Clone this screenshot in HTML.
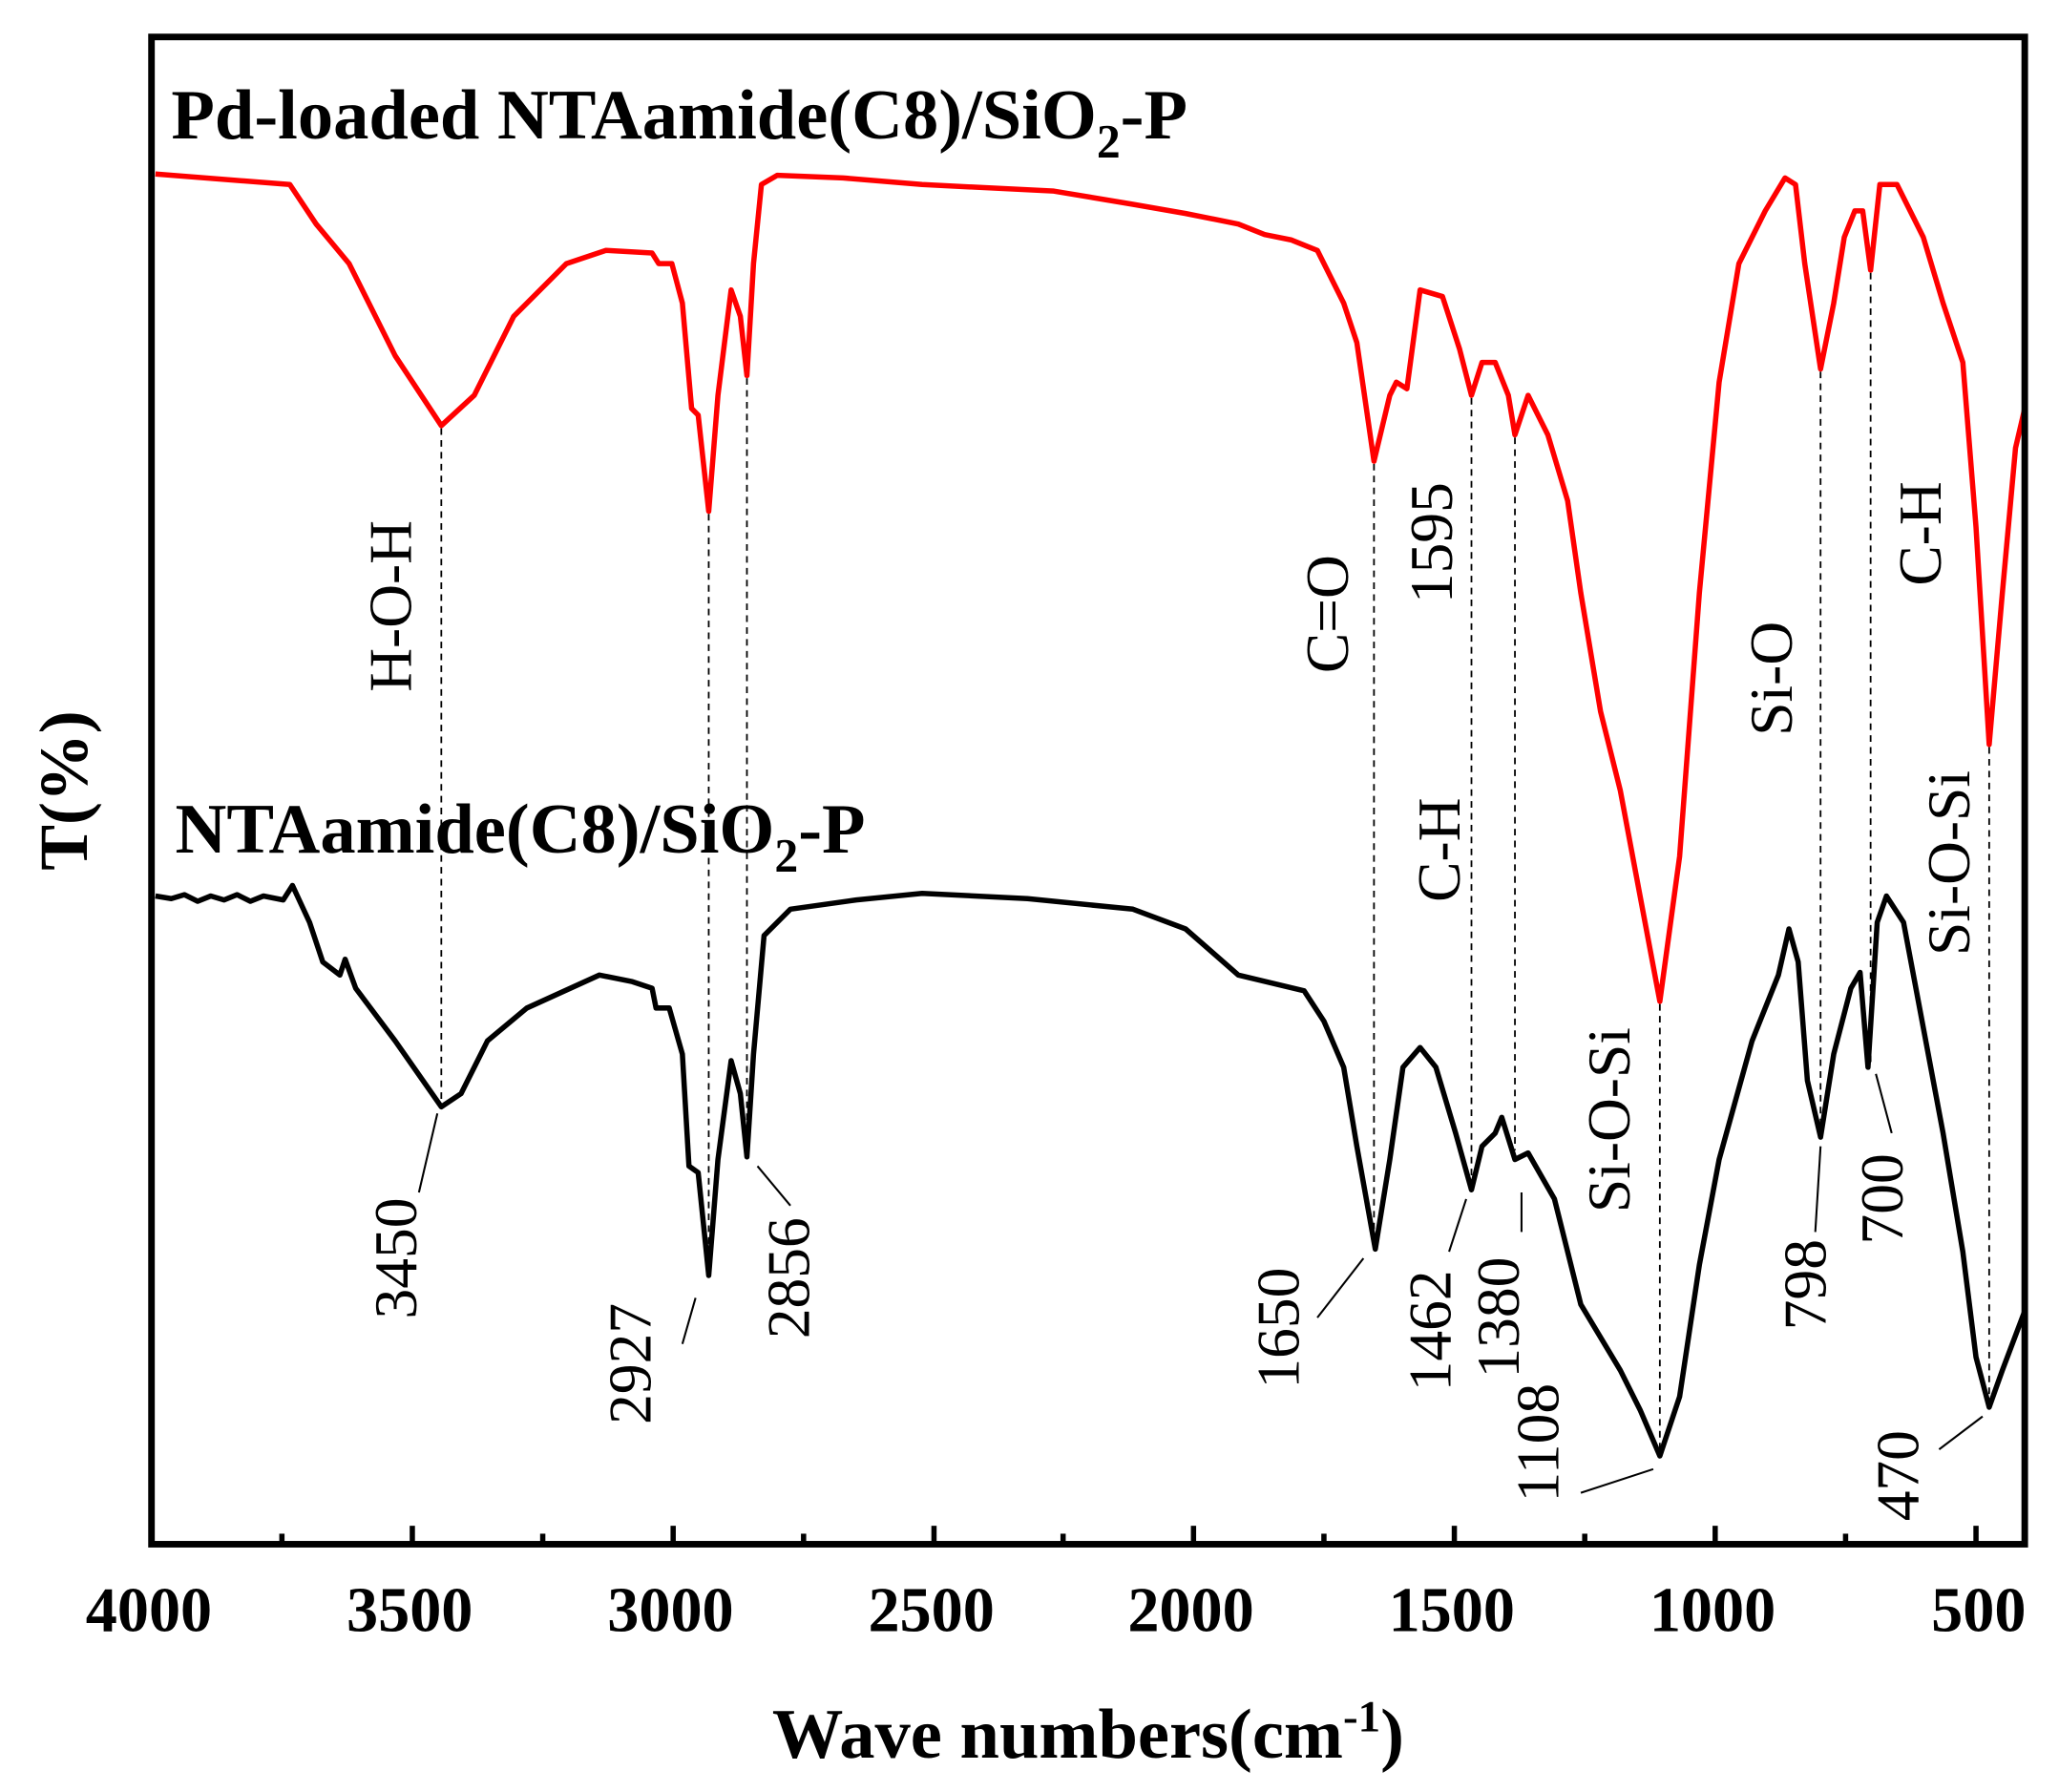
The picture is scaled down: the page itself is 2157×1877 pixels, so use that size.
<!DOCTYPE html>
<html><head><meta charset="utf-8"><style>
html,body{margin:0;padding:0;background:#fff;}
svg{display:block;}
text{font-family:"Liberation Serif",serif;}
</style></head><body>
<svg width="2157" height="1877" viewBox="0 0 1563 1360" xmlns="http://www.w3.org/2000/svg">
<rect x="0" y="0" width="1563" height="1360" fill="#fff"/>
<g stroke="#000" stroke-width="1.3" stroke-dasharray="5,4" fill="none">
<line x1="335" y1="325" x2="335" y2="838"/>
<line x1="538" y1="390" x2="538" y2="966"/>
<line x1="567" y1="287" x2="567" y2="876"/>
<line x1="1043" y1="352" x2="1043" y2="946"/>
<line x1="1117" y1="302" x2="1117" y2="901"/>
<line x1="1150" y1="332" x2="1150" y2="873"/>
<line x1="1260" y1="762" x2="1260" y2="1103"/>
<line x1="1382" y1="282" x2="1382" y2="861"/>
<line x1="1420" y1="207" x2="1420" y2="808"/>
<line x1="1510" y1="567" x2="1510" y2="1066"/>
</g>
<polyline fill="none" stroke="#ff0000" stroke-width="4" stroke-linejoin="round" points="118,132 220,140 240,170 265,200 300,270 335,323 360,300 390,240 430,200 460,190 495,192 500,200 510,200 518,230 525,310 530,315 538,388 545,300 555,220 562,240 567,285 572,200 578,140 590,133 640,135 700,140 800,145 860,155 900,162 940,170 960,178 980,182 1000,190 1020,230 1030,260 1043,350 1055,300 1060,290 1068,295 1078,220 1095,225 1108,265 1117,300 1125,275 1135,275 1145,300 1150,330 1160,300 1175,330 1190,380 1200,450 1215,540 1230,600 1245,680 1260,760 1275,650 1290,450 1305,290 1320,200 1340,160 1355,135 1363,140 1370,200 1382,280 1392,230 1400,180 1408,160 1414,160 1420,205 1427,140 1440,140 1460,180 1475,230 1490,275 1500,400 1510,565 1520,450 1530,340 1537,310"/>
<polyline fill="none" stroke="#000" stroke-width="4" stroke-linejoin="round" points="118,680 130,682 140,679 150,684 160,680 170,683 180,679 190,684 200,680 215,683 222,672 235,700 245,730 258,740 262,728 270,750 300,790 335,840 350,830 370,790 400,765 455,740 480,745 495,750 498,765 508,765 518,800 523,885 530,890 538,968 545,880 555,805 562,830 567,878 572,800 580,710 600,690 650,683 700,678 780,682 860,690 900,705 940,740 990,752 1005,775 1020,810 1030,870 1044,948 1055,880 1065,810 1078,795 1090,810 1105,860 1117,903 1125,870 1135,860 1140,848 1150,880 1160,875 1180,910 1200,990 1230,1040 1245,1070 1260,1105 1275,1060 1290,960 1305,880 1330,790 1350,740 1358,705 1365,730 1372,820 1382,863 1392,800 1405,750 1412,738 1418,810 1425,700 1432,680 1445,700 1460,780 1475,860 1490,950 1500,1030 1510,1068 1520,1040 1537,995"/>
<rect x="115" y="28" width="1422" height="1144" fill="none" stroke="#000" stroke-width="5"/>
<g stroke="#000" stroke-width="4">
<line x1="313" y1="1172" x2="313" y2="1158"/><line x1="511" y1="1172" x2="511" y2="1158"/>
<line x1="709" y1="1172" x2="709" y2="1158"/><line x1="906" y1="1172" x2="906" y2="1158"/>
<line x1="1104" y1="1172" x2="1104" y2="1158"/><line x1="1302" y1="1172" x2="1302" y2="1158"/>
<line x1="1500" y1="1172" x2="1500" y2="1158"/>
<line x1="214" y1="1172" x2="214" y2="1164"/><line x1="412" y1="1172" x2="412" y2="1164"/>
<line x1="610" y1="1172" x2="610" y2="1164"/><line x1="807" y1="1172" x2="807" y2="1164"/>
<line x1="1005" y1="1172" x2="1005" y2="1164"/><line x1="1203" y1="1172" x2="1203" y2="1164"/>
<line x1="1401" y1="1172" x2="1401" y2="1164"/>
</g>
<g font-weight="bold" font-size="48" text-anchor="middle">
<text x="113" y="1238">4000</text><text x="311" y="1238">3500</text><text x="509" y="1238">3000</text>
<text x="707" y="1238">2500</text><text x="904" y="1238">2000</text><text x="1102" y="1238">1500</text>
<text x="1300" y="1238">1000</text><text x="1502" y="1238">500</text>
<text x="826" y="1334" font-size="54">Wave numbers(cm<tspan font-size="34" dy="-20">-1</tspan><tspan dy="20">)</tspan></text>
<text transform="translate(66,600) rotate(-90)" font-size="52">T(%)</text>
</g>
<g font-weight="bold" font-size="54">
<text x="130" y="105">Pd-loaded NTAamide(C8)/SiO<tspan font-size="36" dy="14">2</tspan><tspan dy="-14">-P</tspan></text>
<text x="133" y="647">NTAamide(C8)/SiO<tspan font-size="36" dy="14">2</tspan><tspan dy="-14">-P</tspan></text>
</g>
<g font-size="46" text-anchor="middle">
<text transform="translate(312,460) rotate(-90)">H-O-H</text>
<text transform="translate(1023,466) rotate(-90)">C=O</text>
<text transform="translate(1102,412) rotate(-90)">1595</text>
<text transform="translate(1108,645) rotate(-90)">C-H</text>
<text transform="translate(1360,515) rotate(-90)">Si-O</text>
<text transform="translate(1473,405) rotate(-90)">C-H</text>
<text transform="translate(1237,850) rotate(-90)">Si-O-Si</text>
<text transform="translate(1495,655) rotate(-90)">Si-O-Si</text>
<text transform="translate(316,955) rotate(-90)">3450</text>
<text transform="translate(494,1035) rotate(-90)">2927</text>
<text transform="translate(614,970) rotate(-90)">2856</text>
<text transform="translate(986,1008) rotate(-90)">1650</text>
<text transform="translate(1101,1010) rotate(-90)">1462</text>
<text transform="translate(1153,1000) rotate(-90)">1380</text>
<text transform="translate(1183,1095) rotate(-90)">1108</text>
<text transform="translate(1386,975) rotate(-90)">798</text>
<text transform="translate(1444,910) rotate(-90)">700</text>
<text transform="translate(1456,1120) rotate(-90)">470</text>
</g>
<g stroke="#000" stroke-width="1.5" fill="none">
<line x1="318" y1="905" x2="332" y2="845"/>
<line x1="518" y1="1020" x2="528" y2="985"/>
<line x1="575" y1="885" x2="600" y2="915"/>
<line x1="1000" y1="1000" x2="1035" y2="955"/>
<line x1="1100" y1="950" x2="1113" y2="910"/>
<line x1="1155" y1="905" x2="1155" y2="935"/>
<line x1="1200" y1="1133" x2="1255" y2="1115"/>
<line x1="1378" y1="935" x2="1382" y2="870"/>
<line x1="1436" y1="860" x2="1424" y2="815"/>
<line x1="1472" y1="1100" x2="1505" y2="1075"/>
</g>
</svg>
</body></html>
